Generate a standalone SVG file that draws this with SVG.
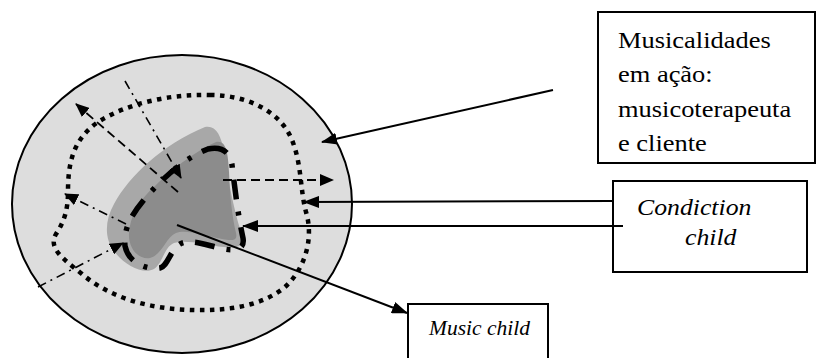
<svg xmlns="http://www.w3.org/2000/svg" width="817" height="358" viewBox="0 0 817 358">
  <style>
    .box { fill: #ffffff; stroke: #000000; stroke-width: 2; }
    .lbl { font-family: 'Liberation Serif', 'Times New Roman', serif; fill: #000000; }
    .it { font-style: italic; }
    .solid { fill: none; stroke: #000000; stroke-width: 2; }
    .dash { fill: none; stroke: #000000; stroke-width: 1.8; stroke-dasharray: 9 5; }
    .dashdot { fill: none; stroke: #000000; stroke-width: 1.6; stroke-dasharray: 9 5 2 5; }
    .dots { fill: none; stroke: #000000; stroke-width: 4.5; stroke-dasharray: 4.5 5.5; }
    .thick { fill: none; stroke: #000000; stroke-width: 5.5; stroke-dasharray: 20 12 4 12; }
  </style>
  <defs>
    <marker id="head" markerUnits="userSpaceOnUse" markerWidth="16" markerHeight="12" refX="15" refY="6" orient="auto">
      <path d="M0,0 L16,6 L0,12 Z" fill="#000000"/>
    </marker>
    <marker id="headSmall" markerUnits="userSpaceOnUse" markerWidth="14" markerHeight="12" refX="13" refY="6" orient="auto">
      <path d="M0,0 L14,6 L0,12 Z" fill="#000000"/>
    </marker>
  </defs>

  <!-- outer field -->
  <g id="field">
    <ellipse cx="182" cy="204" rx="170" ry="149" fill="#dddddd" stroke="#000000" stroke-width="2"/>
    <!-- musicalities boundary -->
    <path class="dots" d="M 210 95 C 245 95, 280 110, 292 140 C 302 165, 300 190, 306 212 C 315 242, 302 272, 285 287 C 262 306, 228 311, 192 310 C 150 309, 110 298, 82 274 C 62 258, 48 248, 56 234 C 64 222, 68 210, 68 192 C 68 165, 72 140, 98 122 C 128 103, 170 94, 210 95 Z"/>
  </g>

  <!-- music child core -->
  <g id="music-child-core">
    <path fill="#a8a8a8" d="M 205 127 C 216 125, 221 135, 224 152 C 228 178, 233 207, 241 232 C 245 246, 239 249, 224 247 C 205 245, 186 239, 174 243 C 164 247, 163 263, 154 269 C 143 275, 124 265, 114 251 C 104 238, 105 220, 114 204 C 130 175, 162 145, 205 127 Z"/>
    <path fill="#8c8c8c" d="M 216 142 C 226 140, 228 152, 229 172 C 230 196, 232 216, 236 233 C 238 241, 232 241, 222 239 C 205 236, 186 229, 176 233 C 166 237, 162 255, 150 258 C 138 260, 128 248, 129 233 C 130 216, 140 199, 155 186 C 175 166, 200 149, 216 142 Z"/>
  </g>

  <!-- condiction child boundary -->
  <g id="condiction-core">
    <path class="thick" d="M 208 149 C 222 146, 230 152, 232 165 C 235 190, 238 215, 243 238 C 245 250, 235 251, 224 249 C 208 246, 192 238, 180 244 C 170 250, 168 266, 160 268 C 145 270, 128 262, 125 246 C 123 228, 133 212, 148 195 C 165 176, 185 158, 208 149 Z"/>
  </g>

  <!-- labels -->
  <g id="musicalidades">
    <rect class="box" x="598" y="12" width="217" height="151"/>
    <text class="lbl" font-size="23" transform="translate(618,48) scale(1.15,1)">Musicalidades</text>
    <text class="lbl" font-size="23" transform="translate(618,82) scale(1.15,1)">em ação:</text>
    <text class="lbl" font-size="23" transform="translate(618,117) scale(1.15,1)">musicoterapeuta</text>
    <text class="lbl" font-size="23" transform="translate(618,151) scale(1.15,1)">e cliente</text>
  </g>

  <g id="condiction-child">
    <rect class="box" x="613" y="181" width="194" height="91"/>
    <text class="lbl it" font-size="23" transform="translate(637,215) scale(1.12,1)">Condiction</text>
    <text class="lbl it" font-size="23" transform="translate(685,245) scale(1.12,1)">child</text>
  </g>

  <g id="music-child">
    <rect class="box" x="408" y="304" width="140" height="60"/>
    <text class="lbl it" font-size="21.5" x="429" y="335">Music child</text>
  </g>

  <!-- connectors -->
  <g id="connectors">
    <line class="solid" x1="553" y1="90" x2="322" y2="142" marker-end="url(#head)"/>
    <line class="solid" x1="613" y1="201" x2="304" y2="202" marker-end="url(#head)"/>
    <line class="solid" x1="623" y1="226" x2="243" y2="226" marker-end="url(#head)"/>
    <line class="solid" x1="177" y1="225" x2="407" y2="313" marker-end="url(#head)"/>

    <line class="dash" x1="178" y1="192" x2="76" y2="104" marker-end="url(#headSmall)"/>
    <line class="dash" x1="223" y1="180" x2="333" y2="180" marker-end="url(#headSmall)"/>
    <line class="dashdot" x1="125" y1="81" x2="181" y2="178" marker-end="url(#headSmall)"/>
    <line class="dashdot" x1="126" y1="224" x2="65" y2="194" marker-end="url(#headSmall)"/>
    <line class="dashdot" x1="38" y1="287" x2="123" y2="243" marker-end="url(#headSmall)"/>
  </g>
</svg>
